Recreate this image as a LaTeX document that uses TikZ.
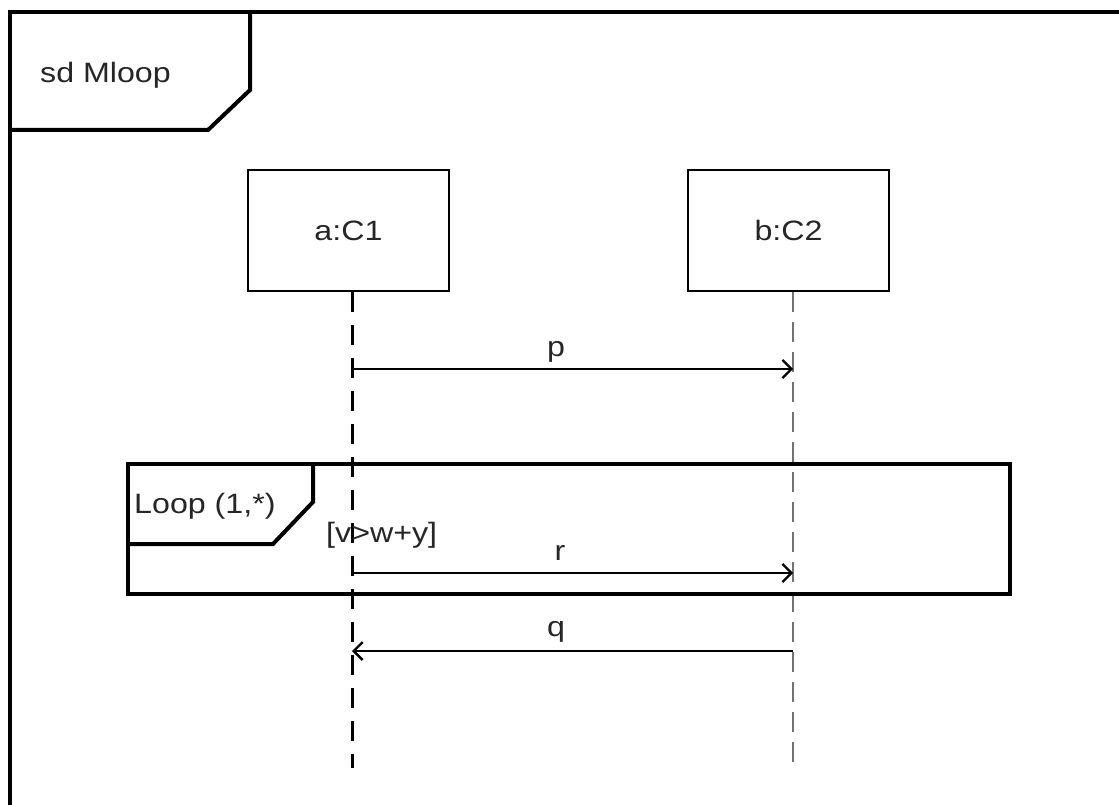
\documentclass[tikz,border=0pt]{standalone}
\usepackage{fontspec}
\setmainfont[FakeStretch=1.15]{Liberation Sans}
\usetikzlibrary{arrows.meta}
\begin{document}
\begin{tikzpicture}[x=1pt,y=-1pt,
  frameline/.style={line width=4pt, line join=miter},
  lifebox/.style={draw, line width=2.8pt, minimum width=201pt, minimum height=121pt, inner sep=0pt, font=\fontsize{28}{32}\selectfont, text=black!85},
  lbl/.style={font=\fontsize{28}{32}\selectfont, text=black!85, inner sep=0pt},
  msg/.style={line width=2.3pt, -{Straight Barb[length=9pt,width=18pt,line width=2.3pt]}},
  lifea/.style={line width=3pt, dash pattern=on 20pt off 13pt},
  lifeb/.style={line width=1.3pt, draw=black!55, dash pattern=on 20pt off 10pt}]
\clip (0,0) rectangle (1119,805);
\fill[white] (0,0) rectangle (1119,805);
% outer frame
\draw[frameline] (10,815) -- (10,12) -- (1130,12);
\draw[frameline] (10,130) -- (208,130) -- (250,90) -- (250,12);
\node[lbl, anchor=base west] (sd) at (40,83) {sd Mloop};
% lifeline heads
\node[lifebox] (a) at (348.5,230.5) {a:C1};
\node[lifebox] (b) at (788.5,230.5) {b:C2};
\coordinate (aend) at (352,768);
\coordinate (bend) at (793,768);
\draw[lifea] ([xshift=3.5pt]a.south) -- (aend);
\draw[lifeb] ([xshift=4.5pt]b.south) -- (bend);
% message points
\coordinate (ap) at (352,369);
\coordinate (bp) at (793,369);
\coordinate (ar) at (352,573);
\coordinate (br) at (793,573);
\coordinate (aq) at (352,651);
\coordinate (bq) at (793,651);
% loop fragment
\draw[frameline] (128,464) rectangle (1010,594);
\draw[frameline] (128,544) -- (273,544) -- (313,502) -- (313,464);
\node[lbl, anchor=base west] (loop) at (134,513) {Loop (1,*)};
\node[lbl, anchor=base west] (guard) at (326,542) {[v>w+y]};
% messages
\draw[msg] (ap) -- (bp);
\node[lbl, anchor=base] (p) at (556,356) {p};
\draw[msg] (ar) -- (br);
\node[lbl, anchor=base] (r) at (560,560) {r};
\draw[msg] (bq) -- (aq);
\node[lbl, anchor=base] (q) at (556,636) {q};
\end{tikzpicture}
\end{document}
